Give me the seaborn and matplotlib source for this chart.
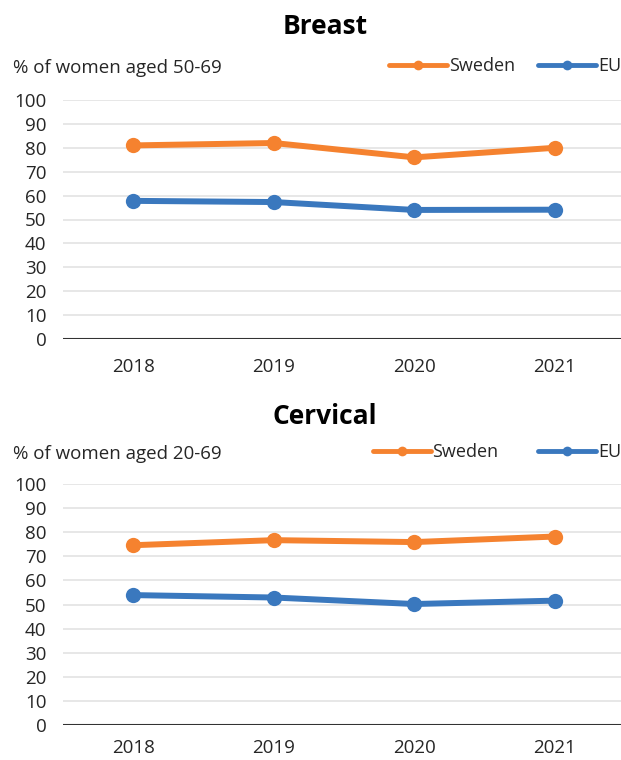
import matplotlib
matplotlib.use("Agg")
import matplotlib.pyplot as plt
import seaborn as sns
import pandas as pd

years = ["2018", "2019", "2020", "2021"]
countries = ["Sweden", "EU"]

breast_sweden = [81.0, 82.0, 76.0, 80.0]
breast_eu = [57.8, 57.3, 54.0, 54.1]

cervical_sweden = [74.6, 76.7, 75.9, 78.2]
cervical_eu = [53.9, 52.9, 50.2, 51.6]

panels = [
    ("Breast", "% of women aged 50-69", breast_sweden, breast_eu),
    ("Cervical", "% of women aged 20-69", cervical_sweden, cervical_eu),
]

colors = {"Sweden": "#F5822F", "EU": "#3A78BE"}

sns.set_style("white")
plt.rcParams["font.family"] = ["Open Sans", "DejaVu Sans"]

fig = plt.figure(figsize=(6.21, 7.6), dpi=100)

# axes boxes in figure fractions (left, bottom, width, height)
boxes = [
    (63 / 621, 1 - 339 / 760, 562 / 621, 239 / 760),
    (63 / 621, 1 - 725 / 760, 562 / 621, 241 / 760),
]
title_y = [1 - 26 / 760, 1 - 416 / 760]
label_y = [1 - 68 / 760, 1 - 454 / 760]
legend_y = [1 - 66 / 760, 1 - 452 / 760]
col_space = [1.3, 2.2]
x_pad = [14, 10]

for i, (title, ylabel, sweden, eu) in enumerate(panels):
    df = pd.DataFrame({
        "year": years * 2,
        "value": sweden + eu,
        "country": ["Sweden"] * len(years) + ["EU"] * len(years),
    })
    ax = fig.add_axes(boxes[i])
    sns.lineplot(
        data=df,
        x="year",
        y="value",
        hue="country",
        hue_order=countries,
        palette=colors,
        marker="o",
        markersize=11,
        markeredgewidth=0,
        linewidth=4.3,
        ax=ax,
        zorder=3,
    )
    ax.set_xlim(-0.5, 3.5)
    ax.set_ylim(0, 100)
    ax.set_yticks(range(0, 101, 10))
    ax.grid(True, axis="y", color="#E3E3E3", linewidth=1.2, zorder=0)
    ax.axhline(0, color="#333333", linewidth=1.5, zorder=2)
    for s in ax.spines.values():
        s.set_visible(False)
    ax.tick_params(axis="both", length=0, labelsize=13.5, colors="#262626")
    ax.tick_params(axis="x", pad=x_pad[i])
    ax.tick_params(axis="y", pad=12)
    ax.set_xlabel("")
    ax.set_ylabel("")

    handles, labels = ax.get_legend_handles_labels()
    for h in handles:
        h.set_linewidth(3.5)
        h.set_markersize(7)
    ax.legend(
        handles=handles,
        labels=labels,
        loc="center right",
        bbox_to_anchor=(1.0, legend_y[i]),
        bbox_transform=fig.transFigure,
        ncol=2,
        frameon=False,
        fontsize=13,
        handlelength=3.2,
        handletextpad=0.1,
        columnspacing=col_space[i],
        borderaxespad=0,
        borderpad=0,
    )

    fig.text(325 / 621, title_y[i], title, ha="center", va="center",
             fontsize=19, fontweight="bold", color="black")
    fig.text(13 / 621, label_y[i], ylabel, ha="left", va="center",
             fontsize=13.5, color="#262626")

fig.savefig("out.png", dpi=100)
